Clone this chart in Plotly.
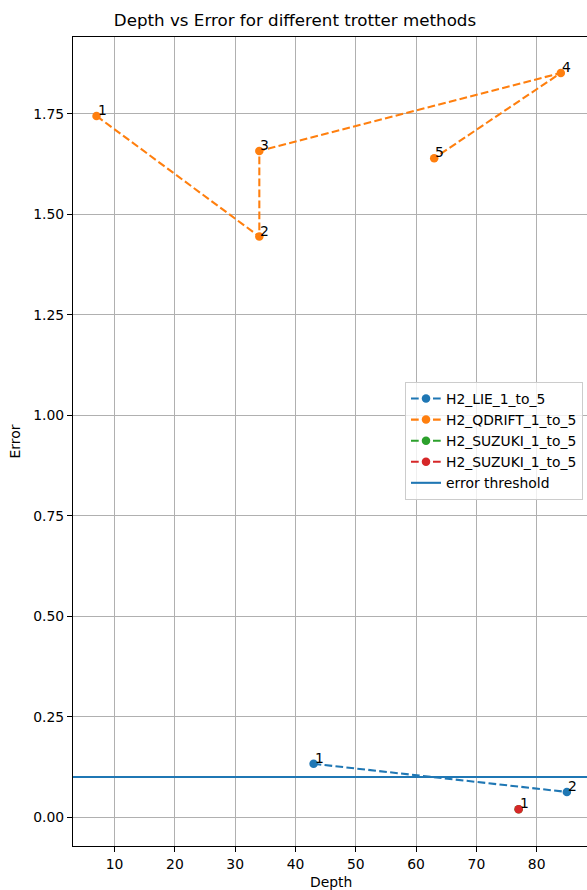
import plotly.graph_objects as go

# ---- data ----
lie_depth = [43, 85]
lie_error = [0.133, 0.063]
lie_labels = ["1", "2"]

qdrift_depth = [7, 34, 34, 84, 63]
qdrift_error = [1.745, 1.445, 1.658, 1.852, 1.640]
qdrift_labels = ["1", "2", "3", "4", "5"]

# green series lies under the red one (same point), its label is hidden by it
suzuki_g_depth = [77]
suzuki_g_error = [0.02]
suzuki_g_labels = [""]

suzuki_r_depth = [77]
suzuki_r_error = [0.02]
suzuki_r_labels = ["1"]

error_threshold = 0.1

series = [
    ("H2_LIE_1_to_5", lie_depth, lie_error, lie_labels, "#1f77b4"),
    ("H2_QDRIFT_1_to_5", qdrift_depth, qdrift_error, qdrift_labels, "#ff7f0e"),
    ("H2_SUZUKI_1_to_5", suzuki_g_depth, suzuki_g_error, suzuki_g_labels, "#2ca02c"),
    ("H2_SUZUKI_1_to_5", suzuki_r_depth, suzuki_r_error, suzuki_r_labels, "#d62728"),
]

FONT = "DejaVu Sans"
FS = 13.9

fig = go.Figure()
annotations = []
for name, xs, ys, labels, color in series:
    fig.add_trace(go.Scatter(
        x=xs, y=ys, name=name, mode="lines+markers",
        line=dict(color=color, width=2.08, dash="7.7px,3.3px"),
        marker=dict(color=color, size=8.5),
    ))
    for x, y, t in zip(xs, ys, labels):
        if not t:
            continue
        annotations.append(dict(
            x=x, y=y, xref="x", yref="y", text=t, showarrow=False,
            xanchor="left", yanchor="bottom", xshift=-1, yshift=-4,
            font=dict(family=FONT, size=FS, color="black"),
        ))

fig.add_shape(
    type="line", xref="paper", yref="y", x0=0, x1=1,
    y0=error_threshold, y1=error_threshold,
    line=dict(color="#1f77b4", width=2.08),
    showlegend=True, name="error threshold",
)

# axis titles as annotations
annotations.append(dict(
    x=(331 - 73) / 514, y=-(882 - 846) / 809, xref="paper", yref="paper",
    text="Depth", showarrow=False, xanchor="center", yanchor="middle",
    font=dict(family=FONT, size=FS, color="black"),
))
annotations.append(dict(
    x=-(73 - 14) / 514, y=0.5, xref="paper", yref="paper", text="Error",
    showarrow=False, textangle=-90, xanchor="center", yanchor="middle",
    font=dict(family=FONT, size=FS, color="black"),
))

axis_common = dict(
    showgrid=True, gridcolor="#b0b0b0", gridwidth=1.1,
    showline=True, linecolor="black", linewidth=1.1,
    ticks="outside", ticklen=5, tickwidth=1.1, tickcolor="black",
    tickfont=dict(family=FONT, size=FS, color="black"),
    zeroline=False,
)

fig.update_layout(
    width=587, height=890,
    margin=dict(l=73, r=0, t=37, b=44, pad=0),
    paper_bgcolor="white", plot_bgcolor="white",
    font=dict(family=FONT, size=FS, color="black"),
    title=dict(text="Depth vs Error for different trotter methods",
               x=295 / 587, xref="container", xanchor="center",
               y=1 - 20 / 890, yref="container", yanchor="middle",
               font=dict(family=FONT, size=16.7, color="black")),
    xaxis=dict(range=[3.1, 88.34], tick0=0, dtick=10, mirror=True, **axis_common),
    yaxis=dict(range=[-0.0715, 1.9415], tick0=0, dtick=0.25, tickformat=".2f", **axis_common),
    legend=dict(
        x=(583 - 73) / 514, xanchor="right", y=(846 - 382) / 809, yanchor="top",
        bgcolor="rgba(255,255,255,0.8)", bordercolor="#cccccc", borderwidth=1,
        font=dict(family=FONT, size=FS, color="black"),
        itemwidth=30,
    ),
    annotations=annotations,
    showlegend=True,
)

fig.write_html(
    "out.html",
    config={"displayModeBar": False},
    post_script="document.body.style.margin='0';document.body.style.overflow='hidden';",
)
